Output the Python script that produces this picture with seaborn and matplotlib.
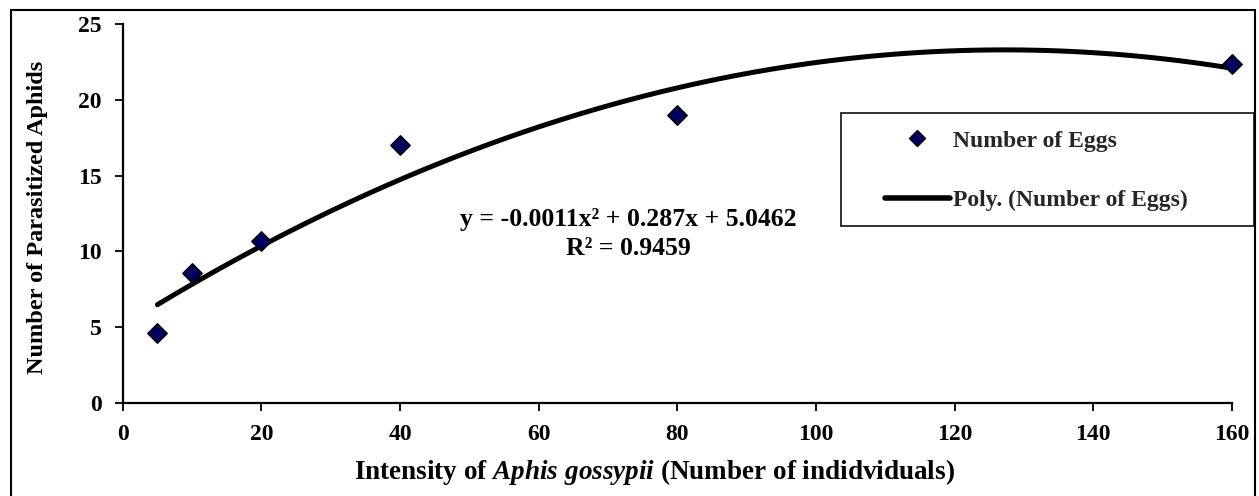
import numpy as np
import pandas as pd
import matplotlib
matplotlib.use("Agg")
import matplotlib.pyplot as plt
from matplotlib.lines import Line2D
from matplotlib.patches import Rectangle
import seaborn as sns

# ---- data ----
intensity = [5, 10, 20, 40, 80, 160]
parasitized = [4.6, 8.6, 10.7, 17.0, 19.0, 22.4]
x_ticks = [0, 20, 40, 60, 80, 100, 120, 140, 160]
y_ticks = [0, 5, 10, 15, 20, 25]
series_label = "Number of Eggs"
trend_label = "Poly. (Number of Eggs)"
equation_text = "y = -0.0011x² + 0.287x + 5.0462\nR² = 0.9459"

df = pd.DataFrame({"x": intensity, "y": parasitized})

sns.set_theme(style="ticks")
plt.rcParams["font.family"] = ["Liberation Serif", "DejaVu Serif"]
plt.rcParams["font.weight"] = "bold"
plt.rcParams["mathtext.fontset"] = "custom"
plt.rcParams["mathtext.rm"] = "Liberation Serif:bold"
plt.rcParams["mathtext.it"] = "Liberation Serif:bold:italic"
plt.rcParams["mathtext.bf"] = "Liberation Serif:bold"

FS = 17

fig = plt.figure(figsize=(12.59, 4.96), dpi=100)
ax = fig.add_axes([0.0975, 0.188, 0.881, 0.763])

navy = "#000060"
sns.regplot(data=df, x="x", y="y", order=2, ci=None, ax=ax,
            marker="D",
            scatter_kws=dict(s=95, color=navy, edgecolor="black", linewidths=1.2,
                             alpha=1.0, zorder=3, clip_on=False),
            line_kws=dict(color="black", lw=3.6, zorder=2))

ax.set_xlim(0, 160)
ax.set_ylim(0, 25)
ax.set_xticks(x_ticks)
ax.set_yticks(y_ticks)
ax.tick_params(axis="both", direction="out", length=6, width=1.3, color="black",
               labelsize=FS, labelcolor="black", pad=9)
for lab in ax.get_xticklabels() + ax.get_yticklabels():
    lab.set_fontweight("bold")

for side in ["top", "right"]:
    ax.spines[side].set_visible(False)
for side in ["left", "bottom"]:
    ax.spines[side].set_color("black")
    ax.spines[side].set_linewidth(1.6)

ax.set_xlabel(r"Intensity of $Aphis\ gossypii$ (Number of indidviduals)",
              fontsize=19.5, fontweight="bold", color="black")
ax.set_ylabel("Number of Parasitized Aphids", fontsize=17.5, fontweight="bold", color="black")
ax.xaxis.set_label_coords(0.479, -0.143)
ax.yaxis.set_label_coords(-0.067, 0.49)

ax.text(72.9, 11.15, equation_text, ha="center", va="center", multialignment="center",
        fontsize=18.5, fontweight="bold", color="black", linespacing=1.3)

# legend
handles = [
    Line2D([], [], marker="D", linestyle="none", markersize=8, markerfacecolor=navy,
           markeredgecolor="black", markeredgewidth=1.0),
    Line2D([], [], color="black", lw=4),
]
leg = fig.legend(handles, [series_label, trend_label], loc="upper left",
                 bbox_to_anchor=(885 / 1259, 1 - 130 / 496), frameon=False,
                 prop=dict(family="Liberation Serif", weight="bold", size=FS),
                 handlelength=2.75, handletextpad=0.12, labelspacing=1.62,
                 borderpad=0.0, borderaxespad=0.0)

# legend box
fig.patches.append(Rectangle((841 / 1259, 1 - 226 / 496), (1254 - 841) / 1259, (226 - 113) / 496,
                             transform=fig.transFigure, fill=False, edgecolor="#222222",
                             linewidth=1.3, zorder=5))
# outer border
fig.patches.append(Rectangle((11 / 1259, -0.02), (1255 - 11) / 1259, 1.02 - 10 / 496,
                             transform=fig.transFigure, fill=False, edgecolor="black",
                             linewidth=1.5, zorder=5))

fig.savefig("out.png", dpi=100, facecolor="white")
